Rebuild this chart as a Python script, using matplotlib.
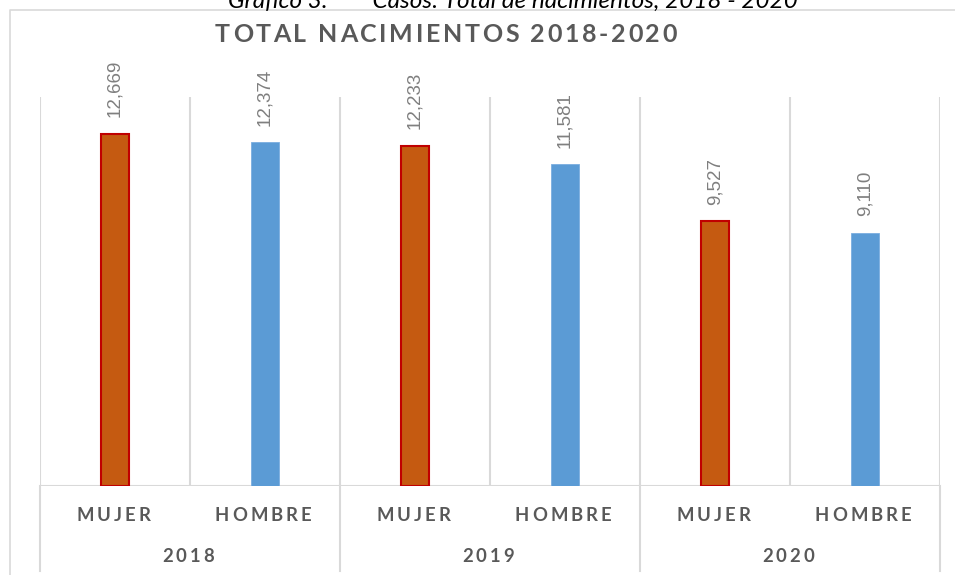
import matplotlib
matplotlib.use("Agg")
import matplotlib.pyplot as plt
from matplotlib.transforms import IdentityTransform
from matplotlib.lines import Line2D

years = ["2018", "2019", "2020"]
sexes = ["MUJER", "HOMBRE"]
mujer = [12669, 12233, 9527]
hombre = [12374, 11581, 9110]

W, H = 955, 575
GRID = "#d9d9d9"
TXT = "#595959"
BOLD = dict(family=["Lato", "DejaVu Sans"], weight="bold", color=TXT)


def spaced(fig, rend, s, cx, base, width, size, **kw):
    # letter-spaced text, centred on cx, baseline at base (pixels from top)
    arts = [fig.text(0, 0, ch, transform=IdentityTransform(), fontsize=size,
                     ha="left", va="baseline", **kw) for ch in s]
    ws = []
    for ch, a in zip(s, arts):
        if ch == " ":
            ws.append(size * 100 / 72 * 0.25)
        else:
            ws.append(a.get_window_extent(rend).width)
    gap = (width - sum(ws)) / (len(s) - 1)
    x = cx - width / 2
    for a, w in zip(arts, ws):
        a.set_position((x, H - base))
        x += w + gap


fig = plt.figure(figsize=(W / 100, H / 100), dpi=100)
ax = fig.add_axes([40 / W, 1 - 486 / H, 900 / W, 389 / H])
ax.set_xlim(-0.5, 5.5)
ax.set_ylim(0, 14000)
for sp in ax.spines.values():
    sp.set_visible(False)
ax.set_xticks([])
ax.set_yticks([])

# vertical gridlines at category boundaries + horizontal axis
for i in range(7):
    ax.axvline(i - 0.5, color=GRID, lw=1.5, zorder=0)
ax.axhline(0, color=GRID, lw=1.5, zorder=0)

xm = [2 * i for i in range(len(years))]
xh = [2 * i + 1 for i in range(len(years))]
ax.bar(xm, mujer, width=0.19, color="#C55A11", edgecolor="#C00000", lw=1.5, zorder=2)
ax.bar(xh, hombre, width=0.19, color="#5B9BD5", edgecolor="#7aaee0", lw=0.6, zorder=2)

for x, v in list(zip(xm, mujer)) + list(zip(xh, hombre)):
    ax.annotate(f"{v:,}", (x, v), xytext=(0, 12), textcoords="offset points",
                rotation=90, ha="center", va="bottom", fontsize=13.5,
                family=["Liberation Sans", "DejaVu Sans"], color="#7f7f7f")

fig.canvas.draw()
rend = fig.canvas.get_renderer()

# separators below the axis between year groups
for i in range(0, 7, 2):
    px = ax.transData.transform((i - 0.5, 0))[0]
    fig.add_artist(Line2D([px, px], [H - 486, H - 571], transform=IdentityTransform(),
                          color=GRID, lw=1.5))

# chart area border (left and top)
fig.add_artist(Line2D([9.5, 9.5, W], [0, H - 9.5, H - 9.5], transform=IdentityTransform(),
                      color=GRID, lw=1.2))

# two-level category labels
for i, yr in enumerate(years):
    for j, sx in enumerate(sexes):
        px = ax.transData.transform((2 * i + j, 0))[0] - 2
        spaced(fig, rend, sx, px, 521, 74 if sx == "MUJER" else 97, 13.3, **BOLD)
    px = ax.transData.transform((2 * i + 0.5, 0))[0] - 2
    spaced(fig, rend, yr, px, 562, 52, 13.3, **BOLD)

spaced(fig, rend, "TOTAL NACIMIENTOS 2018-2020", 446, 42, 462, 18, **BOLD)

fig.text(513 / W, 1 - 8 / H, "Gráfico 3.        Casos: Total de nacimientos, 2018 - 2020",
         ha="center", va="baseline", fontsize=17.5, style="italic",
         family=["Lato", "DejaVu Sans"], color="black")

fig.savefig("out.png", dpi=100)
